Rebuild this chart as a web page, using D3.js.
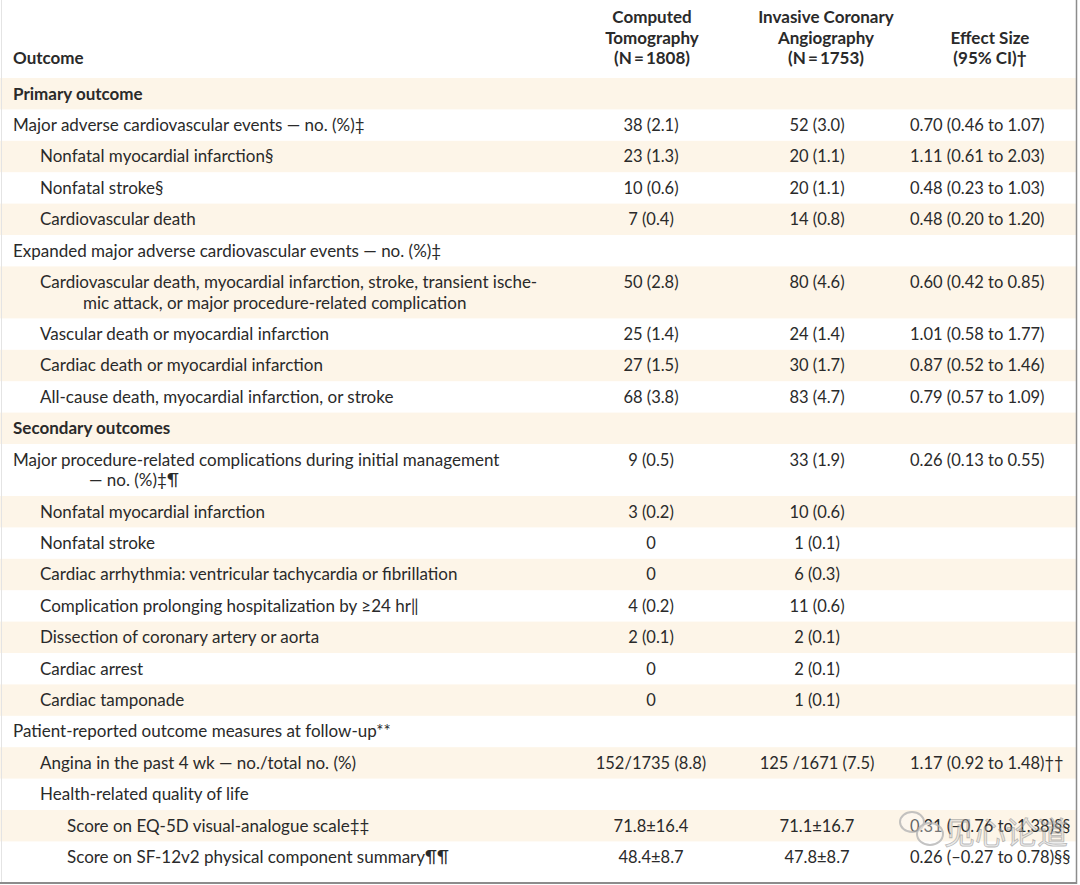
<!DOCTYPE html>
<html>
<head>
<meta charset="utf-8">
<script src="https://cdn.jsdelivr.net/npm/d3@7"></script>
<style>
  html, body { margin: 0; padding: 0; background: #fff; }
  svg { display: block; }
</style>
</head>
<body>
<svg id="chart" width="1080" height="885"></svg>
<script>
// ---------------- DATA ----------------
const outcomes = [
  "Primary outcome",
  "Major adverse cardiovascular events \u2014 no. (%)\u2021",
  "Nonfatal myocardial infarction\u00a7",
  "Nonfatal stroke\u00a7",
  "Cardiovascular death",
  "Expanded major adverse cardiovascular events \u2014 no. (%)\u2021",
  "Cardiovascular death, myocardial infarction, stroke, transient ische-\nmic attack, or major procedure-related complication",
  "Vascular death or myocardial infarction",
  "Cardiac death or myocardial infarction",
  "All-cause death, myocardial infarction, or stroke",
  "Secondary outcomes",
  "Major procedure-related complications during initial management\n\u2014 no. (%)\u2021\u00b6",
  "Nonfatal myocardial infarction",
  "Nonfatal stroke",
  "Cardiac arrhythmia: ventricular tachycardia or fibrillation",
  "Complication prolonging hospitalization by \u226524 hr\u2016",
  "Dissection of coronary artery or aorta",
  "Cardiac arrest",
  "Cardiac tamponade",
  "Patient-reported outcome measures at follow-up**",
  "Angina in the past 4 wk \u2014 no./total no. (%)",
  "Health-related quality of life",
  "Score on EQ-5D visual-analogue scale\u2021\u2021",
  "Score on SF-12v2 physical component summary\u00b6\u00b6"
];
const outcomeLevels = [0,0,1,1,1,0,1,1,1,1,0,0,1,1,1,1,1,1,1,0,1,1,2,2];
const sectionHeaders = ["Primary outcome", "Secondary outcomes"];

const ctValues = [
  "", "38 (2.1)", "23 (1.3)", "10 (0.6)", "7 (0.4)", "",
  "50 (2.8)", "25 (1.4)", "27 (1.5)", "68 (3.8)", "",
  "9 (0.5)", "3 (0.2)", "0", "0", "4 (0.2)", "2 (0.1)", "0", "0", "",
  "152/1735 (8.8)", "", "71.8\u00b116.4", "48.4\u00b18.7"
];
const icaValues = [
  "", "52 (3.0)", "20 (1.1)", "20 (1.1)", "14 (0.8)", "",
  "80 (4.6)", "24 (1.4)", "30 (1.7)", "83 (4.7)", "",
  "33 (1.9)", "10 (0.6)", "1 (0.1)", "6 (0.3)", "11 (0.6)", "2 (0.1)", "2 (0.1)", "1 (0.1)", "",
  "125 /1671 (7.5)", "", "71.1\u00b116.7", "47.8\u00b18.7"
];
const effectSizes = [
  "", "0.70 (0.46 to 1.07)", "1.11 (0.61 to 2.03)", "0.48 (0.23 to 1.03)", "0.48 (0.20 to 1.20)", "",
  "0.60 (0.42 to 0.85)", "1.01 (0.58 to 1.77)", "0.87 (0.52 to 1.46)", "0.79 (0.57 to 1.09)", "",
  "0.26 (0.13 to 0.55)", "", "", "", "", "", "", "", "",
  "1.17 (0.92 to 1.48)\u2020\u2020", "", "0.31 (\u20130.76 to 1.38)\u00a7\u00a7", "0.26 (\u20130.27 to 0.78)\u00a7\u00a7"
];

const headerOutcome = "Outcome";
const headerCT = ["Computed", "Tomography", "(N\u2009=\u20091808)"];
const headerICA = ["Invasive Coronary", "Angiography", "(N\u2009=\u20091753)"];
const headerEffect = ["Effect Size", "(95% CI)\u2020"];

const watermarkText = "\u89c1\u5fc3\u8bba\u9053";

// ---------------- STYLE / LAYOUT ----------------
const W = 1080, H = 885;
const FONT = "Lato, 'Open Sans', sans-serif";
const FS_LABEL = 17, FS_VALUE = 16.5, FS_HEAD = 17;
const TEXT = "#2a2a2a";
const BAND = "#fdf5e8";
const tableTop = 78, tableBottom = 883;
const rowH = 31.4, extraLineH = 20.6;
const levelX = [13, 40, 67];
const contX = [89, 83, 83];
const colCT = 651, colICA = 817, colEffectLeft = 910;
const hdrCT = 652, hdrICA = 826, hdrEffect = 990;
const hdrLineY = [17, 38, 58];
const baseOff = 5.8;

const svg = d3.select("#chart");
svg.append("rect").attr("width", W).attr("height", H).attr("fill", "#fff");

// rows with cumulative heights
const rows = outcomes.map((label, i) => {
  const lines = label.split("\n");
  return {
    i, lines, level: outcomeLevels[i],
    bold: sectionHeaders.includes(label),
    ct: ctValues[i], ica: icaValues[i], eff: effectSizes[i],
    h: rowH + (lines.length - 1) * extraLineH
  };
});
const tops = d3.cumsum([0, ...rows.map(r => r.h)]);
rows.forEach((r, k) => { r.y0 = tableTop + tops[k]; });

const g = svg.append("g");

// alternating bands
g.selectAll("rect.band")
  .data(rows.filter(r => r.i % 2 === 0))
  .join("rect")
  .attr("class", "band")
  .attr("x", 0).attr("width", 1076)
  .attr("y", r => r.y0).attr("height", r => r.h)
  .attr("fill", BAND);

const base = (r, lineIdx) => r.y0 + rowH / 2 + baseOff + lineIdx * extraLineH;

// labels
const labelG = g.selectAll("text.label")
  .data(rows)
  .join("text")
  .attr("class", "label")
  .attr("font-family", FONT)
  .attr("font-size", FS_LABEL)
  .attr("font-weight", r => r.bold ? 700 : 400)
  .attr("fill", TEXT);
labelG.selectAll("tspan")
  .data(r => r.lines.map((t, j) => ({ t, j, r })))
  .join("tspan")
  .attr("x", d => d.j === 0 ? levelX[d.r.level] : contX[d.r.level])
  .attr("y", d => base(d.r, d.j))
  .text(d => d.t);

// value columns
function valueCol(key, x, anchor) {
  g.selectAll("text.v-" + key)
    .data(rows.filter(r => r[key]))
    .join("text")
    .attr("class", "v-" + key)
    .attr("x", x)
    .attr("y", r => base(r, 0))
    .attr("text-anchor", anchor)
    .attr("font-family", FONT)
    .attr("font-size", FS_VALUE)
    .attr("fill", TEXT)
    .text(r => r[key]);
}
valueCol("ct", colCT, "middle");
valueCol("ica", colICA, "middle");
valueCol("eff", colEffectLeft, "start");

// header
const hdr = svg.append("g")
  .attr("font-family", FONT)
  .attr("font-size", FS_HEAD)
  .attr("font-weight", 700)
  .attr("fill", TEXT);
hdr.append("text").attr("x", levelX[0]).attr("y", hdrLineY[2] + baseOff).text(headerOutcome);
function hdrCol(lines, x) {
  const off = hdrLineY.length - lines.length;
  hdr.selectAll(null).data(lines).join("text")
    .attr("x", x).attr("text-anchor", "middle")
    .attr("y", (d, k) => hdrLineY[k + off] + baseOff)
    .text(d => d);
}
hdrCol(headerCT, hdrCT);
hdrCol(headerICA, hdrICA);
hdrCol(headerEffect, hdrEffect);

// borders
svg.append("line").attr("x1", 1.5).attr("x2", 1.5).attr("y1", 0).attr("y2", tableBottom)
  .attr("stroke", "#e4e4e4").attr("stroke-width", 1);
svg.append("line").attr("x1", 1076.5).attr("x2", 1076.5).attr("y1", 0).attr("y2", tableBottom + 1)
  .attr("stroke", "#8c8c8c").attr("stroke-width", 1.5);
svg.append("line").attr("x1", 0).attr("x2", 1077).attr("y1", tableBottom).attr("y2", tableBottom)
  .attr("stroke", "#8c8c8c").attr("stroke-width", 2);

// watermark
const wm = svg.append("g").attr("opacity", 0.8);
const icon = wm.append("g").attr("stroke", "#b5b5b5").attr("stroke-width", 2);
icon.append("ellipse").attr("cx", 912).attr("cy", 822).attr("rx", 12).attr("ry", 10).attr("fill", "rgba(255,255,255,0.35)");
icon.append("ellipse").attr("cx", 930).attr("cy", 834).attr("rx", 13).attr("ry", 11).attr("fill", "rgba(255,255,255,0.45)");
wm.append("text")
  .attr("x", 944).attr("y", 844)
  .attr("font-family", "'Noto Sans CJK SC', sans-serif")
  .attr("font-size", 31)
  .attr("fill", "rgba(200,200,200,0.45)")
  .attr("stroke", "rgba(140,140,140,0.75)")
  .attr("stroke-width", 0.8)
  .text(watermarkText);
</script>
</body>
</html>
